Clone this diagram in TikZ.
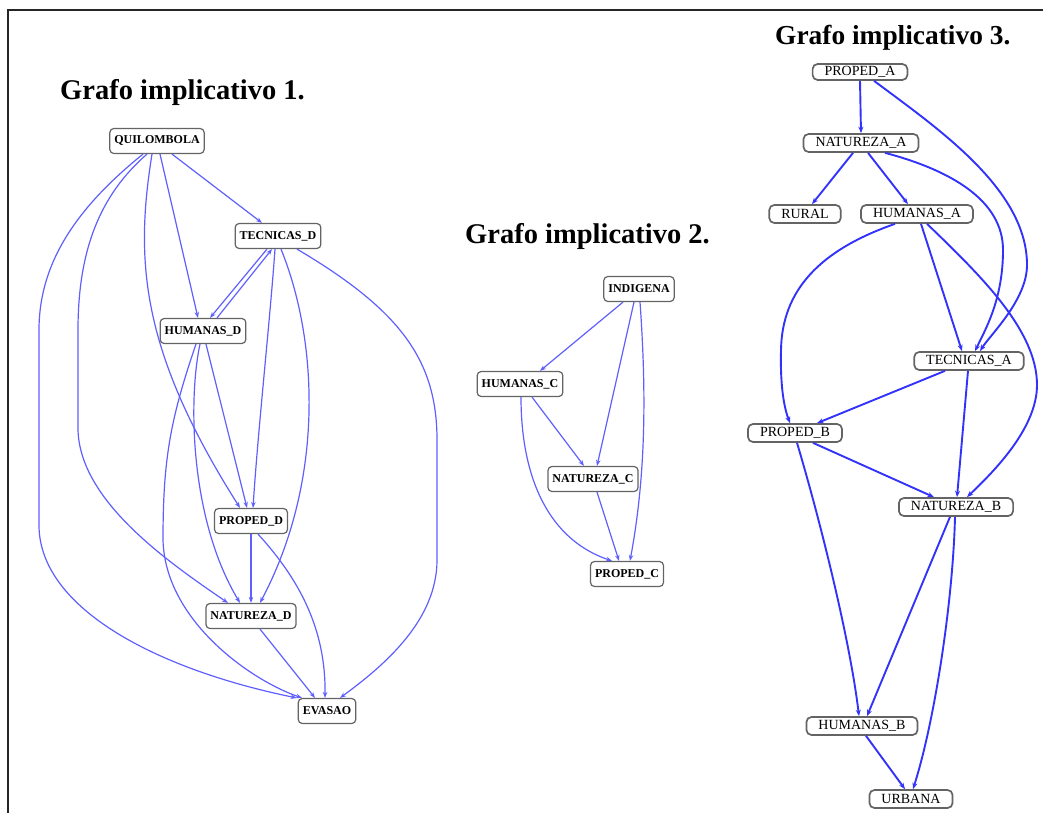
\documentclass[tikz,border=0pt]{standalone}
\usepackage{fontspec}
\setmainfont{Liberation Serif}
\usetikzlibrary{arrows.meta}
\definecolor{edgeA}{RGB}{95,95,255}
\definecolor{edgeB}{RGB}{50,50,250}
\definecolor{boxgray}{RGB}{100,100,100}
\begin{document}
\begin{tikzpicture}[x=1pt,y=-1pt,
  gbox/.style={draw=boxgray, line width=1.2pt, rounded corners=4pt, fill=white,
    font=\fontsize{12}{12}\selectfont\bfseries, inner xsep=4.5pt, inner ysep=0pt, minimum height=25pt},
  hbox/.style={draw=boxgray, line width=1.7pt, rounded corners=5pt, fill=white,
    font=\fontsize{14}{14}\selectfont, inner xsep=12pt, inner ysep=0pt, minimum height=18pt},
  eone/.style={draw=edgeA, line width=1.2pt, -{Stealth[length=6pt,width=4.5pt]}},
  ethree/.style={draw=edgeB, line width=1.9pt, -{Stealth[length=6.5pt,width=5pt]}},
  ttl/.style={font=\fontsize{28.5}{30}\selectfont\bfseries, inner sep=0pt, anchor=base west}]
\useasboundingbox (0,0) rectangle (1043,813);
% frame
\draw[line width=2pt, black!85] (8,813) -- (8,10) -- (1043,10);
% titles
\node[ttl] (t1) at (60,100) {Grafo implicativo 1.};
\node[ttl] (t2) at (465,243) {Grafo implicativo 2.};
\node[ttl, font=\fontsize{27.4}{29}\selectfont\bfseries] (t3) at (775,45) {Grafo implicativo 3.};

% ---------- graph 1 ----------
\node[gbox] (Q) at (157,141) {QUILOMBOLA};
\node[gbox] (T) at (278,236) {TECNICAS\_D};
\node[gbox] (H) at (203,331) {HUMANAS\_D};
\node[gbox] (P) at (251,521) {PROPED\_D};
\node[gbox] (N) at (251,616) {NATUREZA\_D};
\node[gbox] (E) at (327,711) {EVASAO};

\draw[eone] ([xshift=15pt]Q.south) -- ([xshift=-16pt]T.north);
\draw[eone] ([xshift=3pt]Q.south) -- ([xshift=-5pt]H.north);
\draw[eone] ([xshift=-5pt]Q.south) .. controls (135,260) and (140,350) .. ([xshift=-11pt]P.north);
\draw[eone] ([xshift=-10pt]Q.south) .. controls (100,195) and (78,250) .. (78,330) -- (78,430) .. controls (80,500) and (165,560) .. ([xshift=-23pt]N.north);
\draw[eone] ([xshift=-14pt]Q.south) .. controls (80,205) and (39,260) .. (39,330) -- (39,527) .. controls (41,610) and (160,670) .. ([xshift=-1pt]E.north west);
\draw[eone] ([xshift=-11pt]T.south) -- ([xshift=7pt]H.north);
\draw[eone] ([xshift=14pt]H.north) -- ([xshift=-6pt]T.south);
\draw[eone] ([xshift=-3pt]T.south) .. controls (270,320) and (258,430) .. ([xshift=2pt]P.north);
\draw[eone] ([xshift=3pt]T.south) .. controls (318,340) and (325,480) .. ([xshift=9pt]N.north);
\draw[eone] ([xshift=19pt]T.south) .. controls (400,310) and (437,360) .. (437,440) -- (437,560) .. controls (437,620) and (385,665) .. ([xshift=13pt]E.north);
\draw[eone] ([xshift=3pt]H.south) -- ([xshift=-4pt]P.north);
\draw[eone] ([xshift=-3pt]H.south) .. controls (188,400) and (190,520) .. ([xshift=-11pt]N.north);
\draw[eone] ([xshift=-7pt]H.south) .. controls (170,420) and (163,460) .. (163,540) .. controls (165,620) and (250,680) .. ([xshift=-25pt]E.north);
\draw[eone] (P.south) -- (N.north);
\draw[eone] ([xshift=7pt]P.south) .. controls (300,580) and (326,630) .. ([xshift=-2pt]E.north);
\draw[eone] ([xshift=9pt]N.south) -- ([xshift=-12pt]E.north);

% ---------- graph 2 ----------
\node[gbox] (I) at (639,289) {INDIGENA};
\node[gbox] (HC) at (520,384) {HUMANAS\_C};
\node[gbox] (NC) at (593,479) {NATUREZA\_C};
\node[gbox] (PC) at (627,574) {PROPED\_C};

\draw[eone] ([xshift=-16pt]I.south) -- ([xshift=20pt]HC.north);
\draw[eone] ([xshift=-5pt]I.south) -- ([xshift=4pt]NC.north);
\draw[eone] ([xshift=1pt]I.south) .. controls (647,400) and (645,480) .. ([xshift=3pt]PC.north);
\draw[eone] ([xshift=12pt]HC.south) -- ([xshift=-9pt]NC.north);
\draw[eone] ([xshift=1pt]HC.south) .. controls (521,480) and (550,540) .. ([xshift=-15pt]PC.north);
\draw[eone] ([xshift=4pt]NC.south) -- ([xshift=-8pt]PC.north);

% ---------- graph 3 ----------
\node[hbox, minimum height=16pt] (PA) at (860,72) {PROPED\_A};
\node[hbox] (NA) at (861,143) {NATUREZA\_A};
\node[hbox] (RU) at (805,214) {RURAL};
\node[hbox] (HA) at (917,214) {HUMANAS\_A};
\node[hbox] (TA) at (969,361) {TECNICAS\_A};
\node[hbox] (PB) at (795,433) {PROPED\_B};
\node[hbox] (NB) at (956,507) {NATUREZA\_B};
\node[hbox] (HB) at (862,726) {HUMANAS\_B};
\node[hbox] (UR) at (911,799) {URBANA};

\draw[ethree] (PA.south) -- (NA.north);
\draw[ethree] ([xshift=14pt]PA.south) .. controls (940,130) and (1027,190) .. (1027,265) .. controls (1027,300) and (990,335) .. ([xshift=11pt]TA.north);
\draw[ethree] ([xshift=-8pt]NA.south) -- ([xshift=7pt]RU.north);
\draw[ethree] ([xshift=7pt]NA.south) -- ([xshift=-9pt]HA.north);
\draw[ethree] ([xshift=24pt]NA.south) .. controls (950,170) and (1003,200) .. (1003,250) .. controls (1003,300) and (985,330) .. ([xshift=6pt]TA.north);
\draw[ethree] ([xshift=4pt]HA.south) -- ([xshift=-7pt]TA.north);
\draw[ethree] ([xshift=-22pt]HA.south) .. controls (820,250) and (782,290) .. (781,350) .. controls (780,390) and (785,410) .. ([xshift=-5pt]PB.north);
\draw[ethree] ([xshift=10pt]HA.south) .. controls (980,275) and (1037,330) .. (1037,385) .. controls (1037,430) and (990,475) .. ([xshift=11pt]NB.north);
\draw[ethree] ([xshift=-24pt]TA.south) -- ([xshift=22pt]PB.north);
\draw[ethree] ([xshift=-1pt]TA.south) -- ([xshift=1pt]NB.north);
\draw[ethree] ([xshift=18pt]PB.south) -- ([xshift=-22pt]NB.north);
\draw[ethree] ([xshift=2pt]PB.south) .. controls (820,520) and (850,640) .. ([xshift=-3pt]HB.north);
\draw[ethree] ([xshift=-6pt]NB.south) -- ([xshift=5pt]HB.north);
\draw[ethree] ([xshift=-1pt]NB.south) .. controls (953,600) and (935,720) .. ([xshift=2pt]UR.north);
\draw[ethree] ([xshift=4pt]HB.south) -- ([xshift=-6pt]UR.north);
\end{tikzpicture}
\end{document}
